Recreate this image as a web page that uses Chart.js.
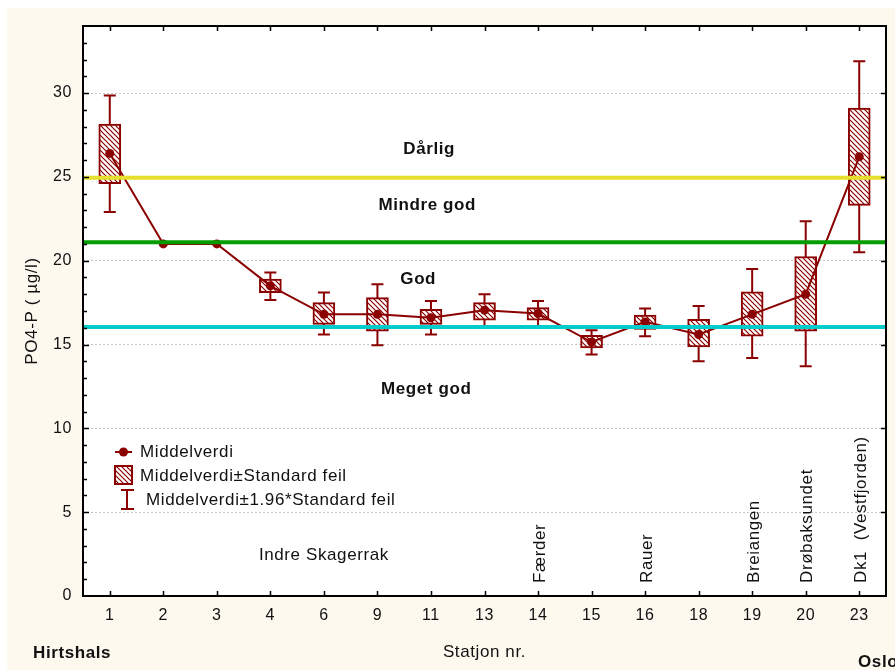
<!DOCTYPE html>
<html>
<head>
<meta charset="utf-8">
<script src="https://cdn.jsdelivr.net/npm/chart.js@4.4.1/dist/chart.umd.min.js"></script>
<style>
  html, body { margin: 0; padding: 0; background: #fdf9ef; overflow: hidden; }
  #grafico { display: block; }
</style>
</head>
<body>
<canvas id="grafico" width="895" height="670"></canvas>
<script>
/* ── Data (lest av figuren) ───────────────────────────────────── */
const stasjoner   = ['1', '2', '3', '4', '6', '9', '11', '13', '14', '15', '16', '18', '19', '20', '23'];
const middelverdi = [26.4, 21.0, 21.0, 18.5, 16.8, 16.8, 16.6, 17.05, 16.85, 15.15, 16.35, 15.6, 16.8, 18.0, 26.2];
const seLav       = [24.6, null, null, 18.1, 16.2, 15.8, 16.2, 16.45, 16.45, 14.8, 15.9, 14.85, 15.5, 15.8, 23.3];
const seHoy       = [28.15, null, null, 18.9, 17.5, 17.8, 17.1, 17.5, 17.2, 15.55, 16.75, 16.5, 18.15, 20.25, 29.1];
const ciLav       = [22.9, null, null, 17.65, 15.6, 14.95, 15.6, 16.1, 16.1, 14.4, 15.5, 14.0, 14.2, 13.7, 20.5];
const ciHoy       = [29.85, null, null, 19.3, 18.1, 18.6, 17.6, 18.0, 17.6, 15.85, 17.15, 17.3, 19.5, 22.35, 31.9];

// Klassegrenser (Dårlig | Mindre god | God | Meget god)
const grenser      = [24.95, 21.1, 16.05];
const grenseFarger = ['#e6df2c', '#009c00', '#00cccc'];
const klasser      = ['Dårlig', 'Mindre god', 'God', 'Meget god'];

// Stasjonsnavn skrevet loddrett over aksen
const stasjonNavn = { '14': 'Færder', '16': 'Rauer', '19': 'Breiangen', '20': 'Drøbaksundet', '23': 'Dk1  (Vestfjorden)' };

const MORKROD = '#8b0000';
const FONT = "'Liberation Sans', Arial, sans-serif";
const SPERRING = '0.6px';

/* ── Skravur for boksene ─────────────────────────────────────── */
function lagSkravur() {
  const c = document.createElement('canvas');
  c.width = 5; c.height = 5;
  const g = c.getContext('2d');
  g.fillStyle = '#fff';
  g.fillRect(0, 0, 5, 5);
  g.strokeStyle = MORKROD;
  g.lineWidth = 1.2;
  g.beginPath();
  g.moveTo(-1, -1); g.lineTo(6, 6);
  g.moveTo(-1, 4);  g.lineTo(1, 6);
  g.moveTo(4, -1);  g.lineTo(6, 1);
  g.stroke();
  return document.getElementById('grafico').getContext('2d').createPattern(c, 'repeat');
}
const skravur = lagSkravur();

/* ── Plugins ─────────────────────────────────────────────────── */
const bakgrunn = {
  id: 'bakgrunn',
  beforeUpdate(chart) { chart.ctx.letterSpacing = SPERRING; },
  beforeDraw(chart) {
    const { ctx, width, height, chartArea: a } = chart;
    ctx.letterSpacing = SPERRING;
    ctx.save();
    ctx.fillStyle = '#ffffff';
    ctx.fillRect(0, 0, width, height);
    ctx.fillStyle = '#fdf9ef';
    ctx.fillRect(7, 8, width - 7, height - 8);
    ctx.fillStyle = '#ffffff';
    ctx.fillRect(a.left, a.top, a.right - a.left, a.bottom - a.top);
    ctx.restore();
  },
};

// Feilstolper (±1.96*SE) tegnes under boksene
const feilstolper = {
  id: 'feilstolper',
  beforeDatasetsDraw(chart) {
    const { ctx, scales: { x, y } } = chart;
    ctx.save();
    ctx.strokeStyle = MORKROD;
    ctx.lineWidth = 2;
    stasjoner.forEach((s, i) => {
      if (ciLav[i] == null) return;
      const px = x.getPixelForValue(i);
      const y1 = y.getPixelForValue(ciHoy[i]);
      const y2 = y.getPixelForValue(ciLav[i]);
      ctx.beginPath();
      ctx.moveTo(px, y1); ctx.lineTo(px, y2);
      ctx.moveTo(px - 6, y1); ctx.lineTo(px + 6, y1);
      ctx.moveTo(px - 6, y2); ctx.lineTo(px + 6, y2);
      ctx.stroke();
    });
    ctx.restore();
  },
};

const pynt = {
  id: 'pynt',
  afterDatasetsDraw(chart) {
    const { ctx, chartArea: a, scales: { x, y } } = chart;
    ctx.save();

    // Klassegrenser
    grenser.forEach((v, i) => {
      const py = y.getPixelForValue(v);
      ctx.strokeStyle = grenseFarger[i];
      ctx.lineWidth = 4;
      ctx.beginPath();
      ctx.moveTo(a.left, py);
      ctx.lineTo(a.right, py);
      ctx.stroke();
    });

    // Ramme og tikker
    ctx.strokeStyle = '#000';
    ctx.lineWidth = 2;
    ctx.strokeRect(a.left, a.top, a.right - a.left, a.bottom - a.top);
    ctx.lineWidth = 1.5;
    ctx.beginPath();
    for (let v = 1; v < y.max; v++) {
      const py = Math.round(y.getPixelForValue(v)) + 0.5;
      ctx.moveTo(a.left, py);
      ctx.lineTo(a.left + (v % 5 === 0 ? 6 : 4), py);
      if (v % 5 === 0) {
        ctx.moveTo(a.right, py);
        ctx.lineTo(a.right - 5, py);
      }
    }
    stasjoner.forEach((s, i) => {
      const px = Math.round(x.getPixelForValue(i)) + 0.5;
      ctx.moveTo(px, a.top); ctx.lineTo(px, a.top + 5);
      ctx.moveTo(px, a.bottom); ctx.lineTo(px, a.bottom - 5);
    });
    ctx.stroke();

    // Klassenavn
    ctx.fillStyle = '#111';
    ctx.textAlign = 'center';
    ctx.textBaseline = 'middle';
    ctx.font = `bold 17px ${FONT}`;
    const kx = (x.getPixelForValue(6) + x.getPixelForValue(5)) / 2 + 25;
    ctx.fillText(klasser[0], kx, y.getPixelForValue(26.65));
    ctx.fillText(klasser[1], kx - 2, y.getPixelForValue(23.3));
    ctx.fillText(klasser[2], kx - 11, y.getPixelForValue(18.9));
    ctx.fillText(klasser[3], kx - 3, y.getPixelForValue(12.3));

    ctx.font = `17px ${FONT}`;
    ctx.fillText('Indre Skagerrak', x.getPixelForValue(4), y.getPixelForValue(2.45));

    // Loddrette stasjonsnavn
    ctx.textAlign = 'left';
    Object.keys(stasjonNavn).forEach(k => {
      const px = x.getPixelForValue(stasjoner.indexOf(k)) + 2;
      ctx.save();
      ctx.translate(px, a.bottom - 13);
      ctx.rotate(-Math.PI / 2);
      ctx.fillText(stasjonNavn[k], 0, 0);
      ctx.restore();
    });
    ctx.restore();
  },
  afterDraw(chart) {
    const { ctx } = chart;
    ctx.save();
    ctx.fillStyle = '#111';
    ctx.textBaseline = 'middle';

    // Forklaring
    ctx.font = `17px ${FONT}`;
    ctx.strokeStyle = MORKROD;
    ctx.lineWidth = 2;
    ctx.beginPath(); ctx.moveTo(115, 452); ctx.lineTo(132, 452); ctx.stroke();
    ctx.fillStyle = MORKROD;
    ctx.beginPath(); ctx.arc(123.5, 452, 4.5, 0, Math.PI * 2); ctx.fill();
    ctx.fillStyle = skravur;
    ctx.fillRect(115, 466, 17, 18);
    ctx.strokeRect(115, 466, 17, 18);
    ctx.beginPath();
    ctx.moveTo(127, 490); ctx.lineTo(127, 509);
    ctx.moveTo(121, 490); ctx.lineTo(134, 490);
    ctx.moveTo(121, 509); ctx.lineTo(134, 509);
    ctx.stroke();
    ctx.fillStyle = '#111';
    ctx.fillText('Middelverdi', 140, 452);
    ctx.fillText('Middelverdi±Standard feil', 140, 476);
    ctx.fillText('Middelverdi±1.96*Standard feil', 146, 500);

    // Endepunkter langs aksen
    ctx.font = `bold 17px ${FONT}`;
    ctx.fillText('Hirtshals', 33, 653);
    ctx.fillText('Oslo', 858, 662);
    ctx.restore();
  },
};

/* ── Diagram ─────────────────────────────────────────────────── */
Chart.defaults.font.family = FONT;
Chart.defaults.color = '#111';

new Chart(document.getElementById('grafico'), {
  data: {
    labels: stasjoner,
    datasets: [
      {
        type: 'line',
        label: 'Middelverdi',
        data: middelverdi,
        borderColor: MORKROD,
        borderWidth: 2,
        pointRadius: 4.5,
        pointBackgroundColor: MORKROD,
        pointBorderWidth: 0,
        tension: 0,
        order: 0,
      },
      {
        type: 'bar',
        label: 'Middelverdi±Standard feil',
        data: seLav.map((l, i) => (l == null ? null : [l, seHoy[i]])),
        backgroundColor: skravur,
        borderColor: MORKROD,
        borderWidth: 2,
        borderSkipped: false,
        barThickness: 22,
        order: 1,
      },
    ],
  },
  plugins: [bakgrunn, feilstolper, pynt],
  options: {
    responsive: false,
    animation: false,
    layout: { padding: { top: 26, right: 9, left: 0, bottom: 0 } },
    plugins: { legend: { display: false }, tooltip: { enabled: false } },
    scales: {
      x: {
        type: 'category',
        offset: true,
        grid: { display: false, drawTicks: false },
        border: { display: false },
        ticks: { font: { size: 16 }, color: '#111', padding: 10, maxRotation: 0 },
        title: { display: true, text: 'Statjon nr.', font: { size: 17 }, color: '#111', padding: { top: 0, bottom: 7 } },
        afterFit(scale) { scale.height = 74; },
      },
      y: {
        min: 0,
        max: 34,
        grid: {
          color: c => (c.tick.value === 0 ? 'rgba(0,0,0,0)' : '#c4c4c4'),
          lineWidth: 1,
          drawTicks: false,
        },
        border: { display: false, dash: [2, 2] },
        ticks: { stepSize: 5, font: { size: 16 }, color: '#111', padding: 11 },
        afterBuildTicks(scale) { scale.ticks = scale.ticks.filter(t => t.value % 5 === 0); },
        title: { display: true, text: 'PO4-P ( µg/l)', font: { size: 17 }, color: '#111', padding: { top: 22, bottom: 0 } },
        afterFit(scale) { scale.width = 83; },
      },
    },
  },
});
</script>
</body>
</html>
